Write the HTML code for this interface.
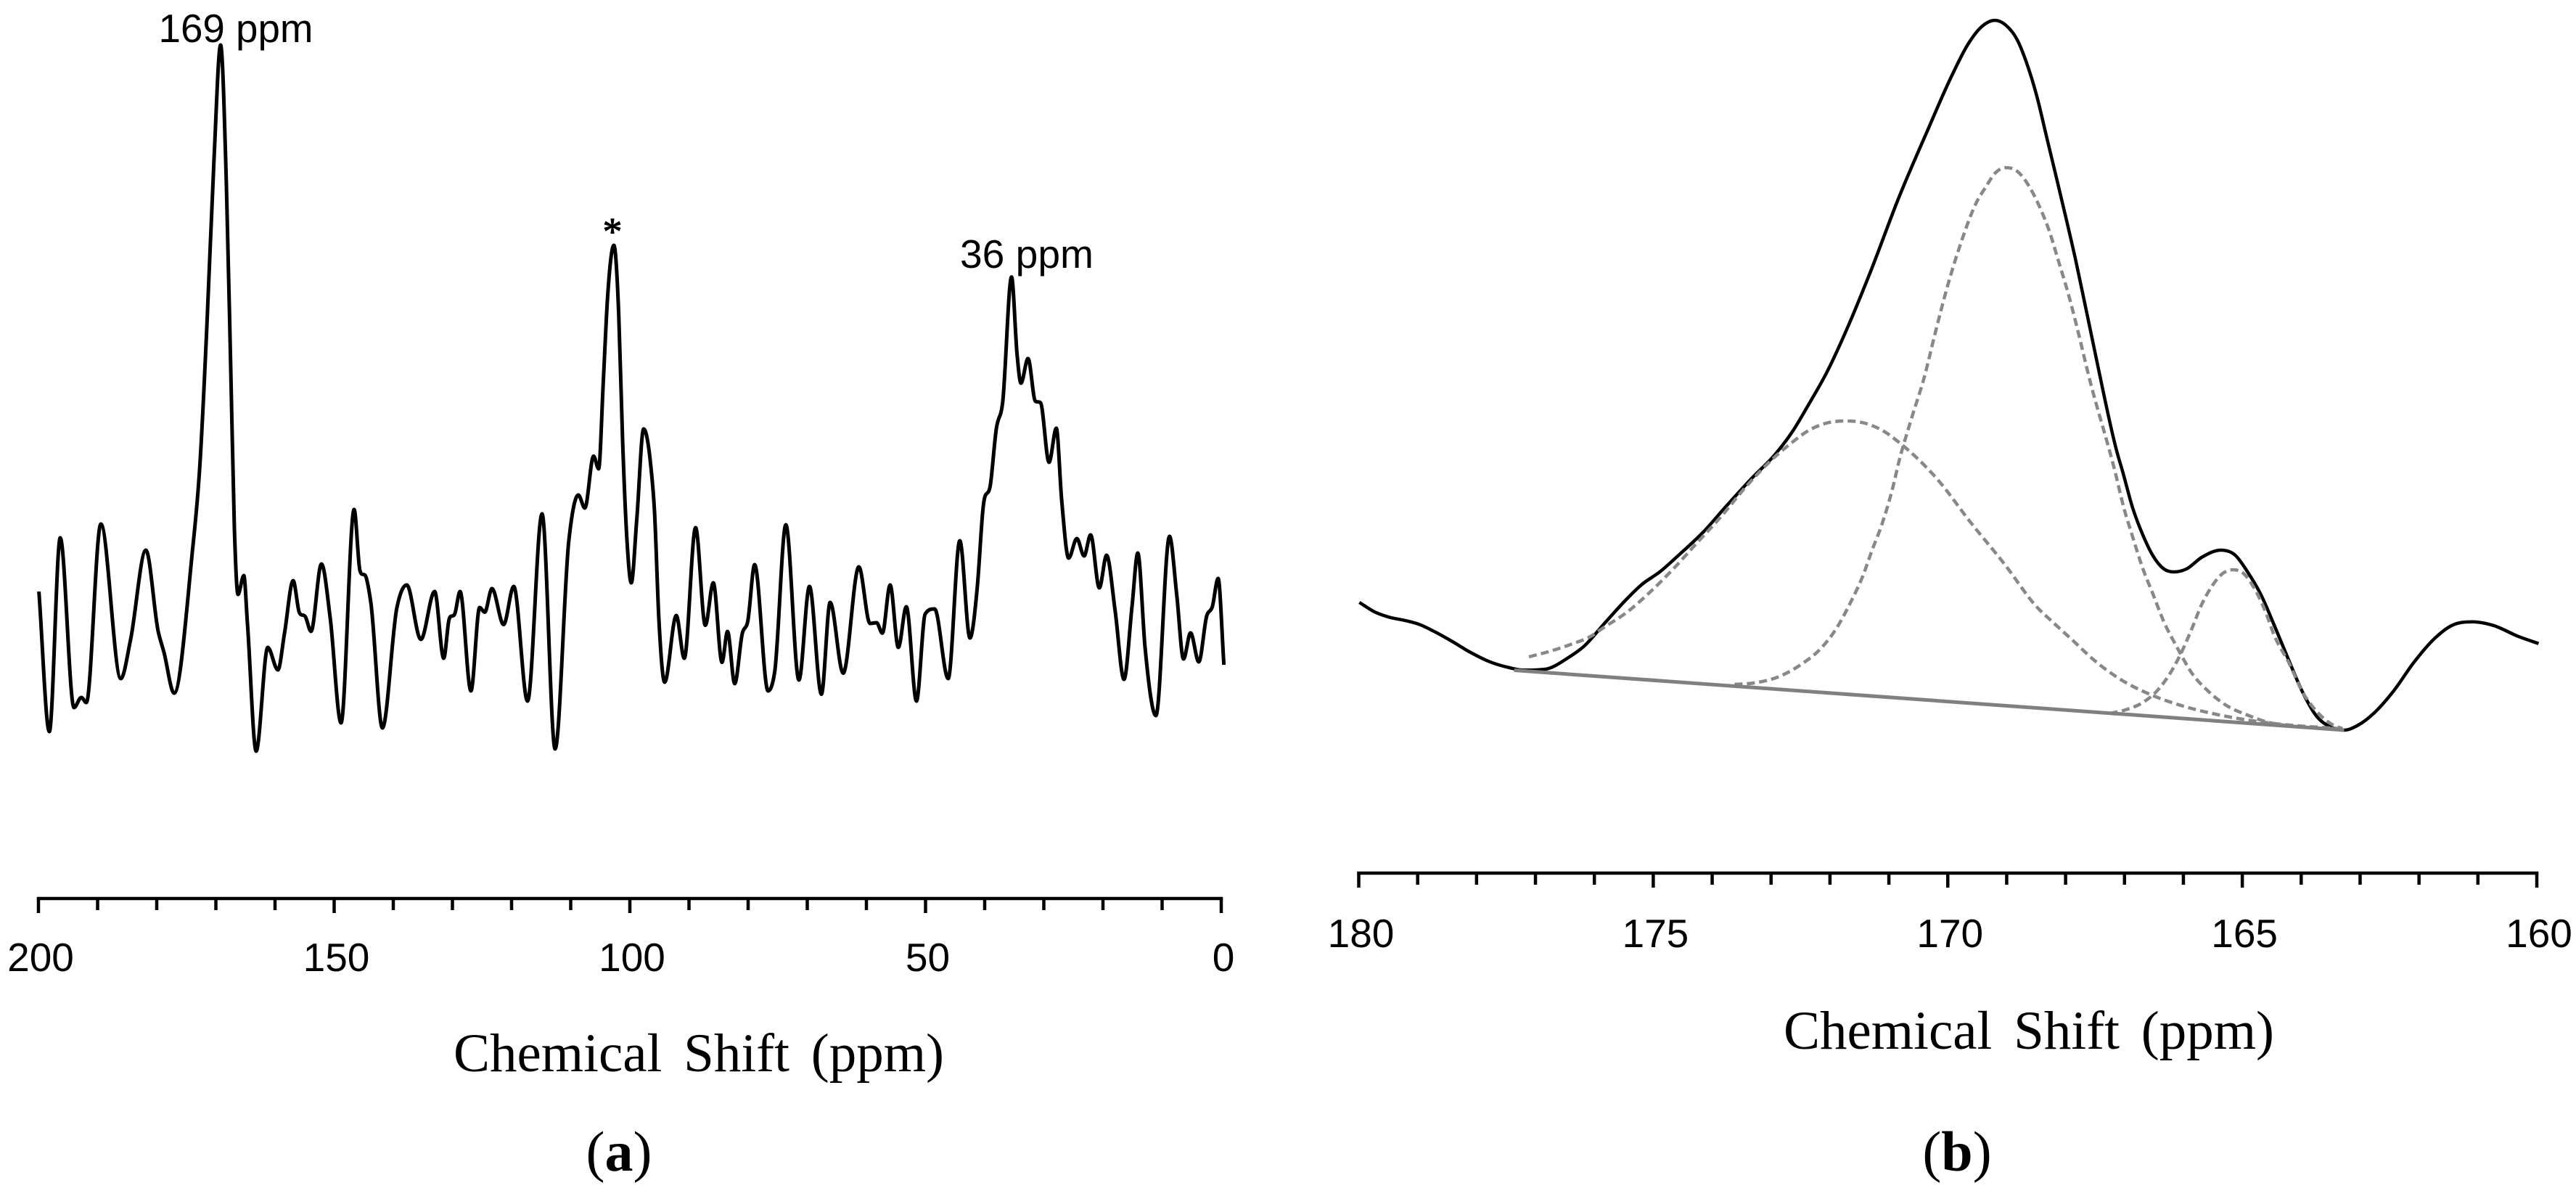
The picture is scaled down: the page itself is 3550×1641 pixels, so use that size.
<!DOCTYPE html>
<html lang="en">
<head>
<meta charset="utf-8">
<title>Chemical shift spectra</title>
<style>
html,body{margin:0;padding:0;background:#fff;width:3550px;height:1641px;overflow:hidden}
svg{display:block}
.sans{font-family:"Liberation Sans",sans-serif;fill:#000}
.serif{font-family:"Liberation Serif",serif;fill:#000}
</style>
</head>
<body>
<svg id="figure" xmlns="http://www.w3.org/2000/svg" width="3550" height="1641" viewBox="0 0 3550 1641">
<rect width="3550" height="1641" fill="#fff"/>
<g id="panelA">
<text class="sans" x="325" y="58" font-size="55" text-anchor="middle" textLength="213" lengthAdjust="spacingAndGlyphs">169 ppm</text>
<text class="serif" x="844" y="337" font-size="54" text-anchor="middle" stroke="#000" stroke-width="1">*</text>
<text class="sans" x="1415" y="369" font-size="55" text-anchor="middle" textLength="184" lengthAdjust="spacingAndGlyphs">36 ppm</text>
<text class="serif" x="963" y="1476" font-size="75" text-anchor="middle" style="word-spacing:11px">Chemical Shift (ppm)</text>
<text class="serif" x="853" y="1613" font-size="78" text-anchor="middle">(<tspan font-weight="bold">a</tspan>)</text>
</g>
<g id="panelB">
<text class="serif" x="2796" y="1445" font-size="75" text-anchor="middle" style="word-spacing:11px">Chemical Shift (ppm)</text>
<text class="serif" x="2697" y="1613" font-size="78" text-anchor="middle">(<tspan font-weight="bold">b</tspan>)</text>
</g>
</svg>
<script>
// Panel (a): full spectrum
const ppmA = [199.93,198.16,196.32,193.99,192.76,191.90,189.45,186.07,184.42,181.84,179.75,178.77,177.06,174.11,172.70,171.53,170.31,169.20,168.22,167.48,166.87,166.26,165.28,164.66,163.19,161.23,159.51,158.40,156.93,155.89,154.85,153.91,152.15,150.67,148.83,146.63,145.64,144.54,143.80,141.84,139.39,137.72,135.34,133.01,
131.47,130.55,129.57,128.71,126.87,125.40,124.54,123.31,121.35,119.63,117.30,114.85,112.64,110.31,108.71,107.61,106.13,105.28,104.48,103.80,102.70,101.89,101.23,100.49,99.75,98.83,97.67,96.49,95.83,95.09,94.11,92.15,90.80,88.88,87.24,85.89,84.42,83.48,82.27,80.98,80.06,78.90,76.63,75.50,73.62,71.41,69.63,67.61,66.13,63.93,61.28,59.39,
58.28,57.30,55.99,54.60,53.25,51.53,50.06,48.47,46.17,44.21,42.49,41.26,40.25,39.02,38.04,36.97,35.46,34.52,33.87,32.67,31.45,30.55,29.12,27.89,26.99,25.80,24.42,23.19,22.09,20.61,19.39,17.95,16.44,15.09,14.11,12.88,11.04,8.75,7.52,6.38,5.19,3.80,2.45,1.51,0.53,-0.45];
const intensityA = [285,92,359,125,139,132,378,165,219,342,230,201,145,329,460,649,882,1038,845,591,372,281,307,241,65,208,177,227,300,256,250,230,323,249,104,398,314,303,270,97,263,294,219,285,
193,247,255,285,148,263,256.5,289,239.5,292,134,392,68,356,418,400,471.5,454,576,685.5,762,669,493.5,356,297,384,509,460.5,395,247,160,252,193,373,238.4,297,187.4,230,158,227.4,244,322,148,175,377,163,292,143.5,270,172.5,319,241,
242,227.6,294,208,264,134,254,261,165,355,221,290,402,433,509,545,718.4,611,572,606,547.5,545,463,510,412,331,358,334,363,290,335,259,164,264,338,208,114,361,280,192,228,188,251.5,264,303,184];
const tickValuesA = [200,190,180,170,160,150,140,130,120,110,100,90,80,70,60,50,40,30,20,10,0];
const tickLabelsA = ["200","150","100","50","0"];

// Panel (b): deconvolved carbonyl region
const ppmB = [179.99,179.74,179.50,179.21,178.96,178.72,178.43,178.10,177.78,177.44,177.20,176.83,176.46,176.17,175.84,175.47,175.19,174.89,174.57,174.15,173.79,173.34,172.92,172.64,172.36,172.06,171.69,171.32,170.83,170.34,169.93,169.65,169.40,169.20,169.01,168.82,168.66,168.49,168.33,168.17,168.00,167.83,167.69,167.55,167.43,167.13,167.03,166.86,166.69,166.51,166.33,166.16,165.95,165.69,165.36,165.12,164.92,164.68,164.45,164.21,163.98,163.74,163.50,163.27,163.03,162.77,162.44,162.09,161.74,161.44,161.09,160.74,160.32,159.97];
const intensityB = [270,257.3,250,245,239.3,230,217,201,188.3,180,176.7,178,193,210,240,273,295,312,335,367,400,440,475,505,543,586,651,724,828,921,996,1040,1065,1072,1065,1045,1013,968,914,860,802,742,688,634,587,478,450,400,363.3,333.3,316,312,316,332,342,335,313.3,280,237,190,147,113.3,98.3,94,101,117,147,187,220,238.3,243.3,238.3,223.3,213.3];
const ppmFit1 = [177.11,176.74,176.37,176.09,175.81,175.47,175.07,174.65,174.28,173.83,173.42,172.97,172.68,172.36,172.06,171.74,171.41,171.07,170.82,170.18,169.61,169.04,168.48,168.22,167.87,167.51,167.09,166.56,166.04,165.51,164.92,164.33,163.33];
const intensityFit1 = [195,203,213,222,237,255,283,317,350,390,430,468,488,507,517,520,517,505,490,440,380,323,263,243,217,190,165,143,128,117,108,102,96];
const ppmFit2 = [173.62,173.29,172.89,172.48,172.15,171.90,171.65,171.44,171.28,171.12,170.95,170.82,170.61,170.40,170.22,169.99,169.77,169.52,169.35,169.19,169.01,168.82,168.61,168.43,168.27,168.12,167.96,167.80,167.61,167.16,167.01,166.86,166.69,166.51,166.33,166.10,165.86,165.57,165.27,164.92,164.57,164.21,163.74,163.33];
const intensityFit2 = [157,159,167,185,207,233,270,307,343,377,423,467,525,580,639,710,767,820,843,862,869,864,842,813,780,740,697,647,583,450,400,360,317,280,243,207,173,147,128,115,105,100,97,96];
const ppmFit3 = [167.25,166.98,166.69,166.46,166.22,166.04,165.86,165.69,165.51,165.33,165.16,164.98,164.80,164.62,164.45,164.21,163.98,163.74,163.50,163.30];
const intensityFit3 = [117,122,132,147,173,200,233,267,293,310,315,310,290,260,223,187,147,120,103,96];
const ppmBaseline = [177.36,163.27];
const intensityBaseline = [176.5,94];
const tickValuesB = [180,179,178,177,176,175,174,173,172,171,170,169,168,167,166,165,164,163,162,161,160];
const tickLabelsB = ["180","175","170","165","160"];

const SVGNS = "http://www.w3.org/2000/svg";
const xA = p => 1683 - p * 8.15;
const xB = p => 3496 - (p - 160) * 81.175;
const yI = v => 1100 - v;

function smoothPath(px, py) {
  const n = px.length;
  if (n < 3) return "M" + px[0] + " " + py[0] + "L" + px[1] + " " + py[1];
  const s = [], m = [];
  for (let i = 0; i < n - 1; i++) s.push((py[i + 1] - py[i]) / (px[i + 1] - px[i]));
  m.push(s[0]);
  for (let i = 1; i < n - 1; i++) {
    if (s[i - 1] * s[i] <= 0) { m.push(0); continue; }
    const a = px[i] - px[i - 1], b = px[i + 1] - px[i];
    const t = (b * s[i - 1] + a * s[i]) / (a + b);
    const lim = 3 * Math.min(Math.abs(s[i - 1]), Math.abs(s[i]));
    m.push(Math.sign(t) * Math.min(Math.abs(t), lim));
  }
  m.push(s[n - 2]);
  let d = "M" + px[0].toFixed(1) + " " + py[0].toFixed(1);
  for (let i = 0; i < n - 1; i++) {
    const h = (px[i + 1] - px[i]) / 3;
    d += "C" + (px[i] + h).toFixed(1) + " " + (py[i] + m[i] * h).toFixed(1) + " " +
      (px[i + 1] - h).toFixed(1) + " " + (py[i + 1] - m[i + 1] * h).toFixed(1) + " " +
      px[i + 1].toFixed(1) + " " + py[i + 1].toFixed(1);
  }
  return d;
}

function drawSeries(parent, name, ppm, vals, xf, stroke, width, dash) {
  const el = document.createElementNS(SVGNS, "path");
  
  
  el.setAttribute("d", smoothPath(ppm.map(xf), vals.map(yI)));
  el.setAttribute("fill", "none");
  el.setAttribute("stroke", stroke);
  el.setAttribute("stroke-width", width);
  el.setAttribute("stroke-linejoin", "round");
  if (dash) el.setAttribute("stroke-dasharray", dash);
  parent.appendChild(el);
}

function drawAxis(parent, suffix, ticks, labels, xf, axisY, majorEvery, labelY) {
  const axis = document.createElementNS(SVGNS, "line");
  
  
  axis.setAttribute("x1", xf(ticks[0]) - 2.25);
  axis.setAttribute("x2", xf(ticks[ticks.length - 1]) + 2.25);
  axis.setAttribute("y1", axisY);
  axis.setAttribute("y2", axisY);
  axis.setAttribute("stroke", "#000");
  axis.setAttribute("stroke-width", 4.5);
  parent.appendChild(axis);
  ticks.forEach(function (t) {
    const major = t % majorEvery === 0;
    const tk = document.createElementNS(SVGNS, "line");
    
    
    tk.setAttribute("x1", xf(t));
    tk.setAttribute("x2", xf(t));
    tk.setAttribute("y1", axisY);
    tk.setAttribute("y2", axisY + (major ? 20 : 16));
    tk.setAttribute("stroke", "#000");
    tk.setAttribute("stroke-width", 4.5);
    parent.appendChild(tk);
  });
  labels.forEach(function (l) {
    const tx = document.createElementNS(SVGNS, "text");
    
    
    tx.setAttribute("class", "sans");
    tx.setAttribute("x", xf(Number(l)) + 3);
    tx.setAttribute("y", labelY);
    tx.setAttribute("font-size", 55);
    tx.setAttribute("text-anchor", "middle");
    tx.textContent = l;
    parent.appendChild(tx);
  });
}

const groupA = document.getElementById("panelA");
const groupB = document.getElementById("panelB");

drawSeries(groupA, "spectrum-a", ppmA, intensityA, xA, "#000", 5, null);
drawAxis(groupA, "a", tickValuesA, tickLabelsA, xA, 1238, 50, 1338);

drawSeries(groupB, "spectrum-b", ppmB, intensityB, xB, "#000", 4.5, null);
drawSeries(groupB, "fit-peak-172", ppmFit1, intensityFit1, xB, "#888", 4.5, "11 6");
drawSeries(groupB, "fit-peak-169", ppmFit2, intensityFit2, xB, "#888", 4.5, "11 6");
drawSeries(groupB, "fit-peak-165", ppmFit3, intensityFit3, xB, "#888", 4.5, "11 6");
drawSeries(groupB, "fit-baseline", ppmBaseline, intensityBaseline, xB, "#808080", 5, null);
drawAxis(groupB, "b", tickValuesB, tickLabelsB, xB, 1203, 5, 1305);
</script>
</body>
</html>
